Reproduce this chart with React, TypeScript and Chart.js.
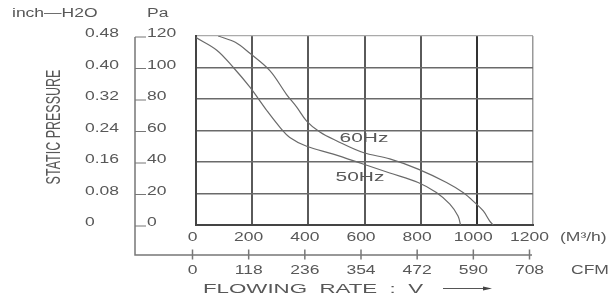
import React, { useEffect, useRef } from "react";
import { Chart, registerables } from "chart.js";

Chart.register(...registerables);

// ---- data ----
const flow60 = [79, 140, 192, 263, 322, 358, 394, 441, 500, 595, 690, 791, 892, 951, 993, 1023, 1046, 1058];
const pres60 = [120, 116, 109, 98, 83, 75, 66, 59, 53.5, 46, 42, 35.5, 27, 20.6, 14.2, 8.9, 2.5, 0];
const flow50 = [0, 74, 133, 192, 252, 299, 334, 394, 489, 595, 690, 791, 856, 904, 933, 942];
const pres50 = [119, 111, 100, 87.5, 72.7, 62, 55.6, 50, 45, 38.7, 33, 27, 20.6, 13.2, 5.7, 0];

const flowTicks = [0, 200, 400, 600, 800, 1000, 1200];
const cfmLabels = ["0", "118", "236", "354", "472", "590", "708"];
const paTicks = [120, 100, 80, 60, 40, 20, 0];
const inchLabels = ["0.48", "0.40", "0.32", "0.24", "0.16", "0.08", "0"];

const FONT = '"Liberation Sans", Arial, sans-serif';
const TXT = "#585858";

function drawText(
  ctx: CanvasRenderingContext2D,
  text: string,
  x: number,
  y: number,
  align: CanvasTextAlign,
  size: number,
  sx: number,
  baseline: CanvasTextBaseline = "alphabetic"
) {
  ctx.save();
  ctx.translate(x, y);
  ctx.scale(sx, 1);
  ctx.font = `${size}px ${FONT}`;
  ctx.fillStyle = TXT;
  ctx.textAlign = align;
  ctx.textBaseline = baseline;
  ctx.fillText(text, 0, 0);
  ctx.restore();
}

function drawFit(ctx: CanvasRenderingContext2D, text: string, x: number, y: number, size: number, width: number) {
  ctx.save();
  ctx.font = `${size}px ${FONT}`;
  const w = ctx.measureText(text).width;
  ctx.restore();
  drawText(ctx, text, x, y, "left", size, width / w);
}

const decor = {
  id: "decor",
  afterDraw(chart: any) {
    const { ctx, scales } = chart;
    const x = scales.x;
    const y = scales.y;
    const SX = 1.4;
    ctx.save();
    // L-shaped outer axis
    const axX = 135;
    const axY = 255;
    ctx.strokeStyle = "#777";
    ctx.lineWidth = 1.5;
    ctx.beginPath();
    ctx.moveTo(axX, y.getPixelForValue(120) + 1);
    ctx.lineTo(axX, axY);
    ctx.lineTo(x.getPixelForValue(1200) - 1, axY);
    ctx.stroke();

    // Pa ticks & labels, inch labels
    paTicks.forEach((v, i) => {
      const yy = y.getPixelForValue(v) + 1;
      ctx.strokeStyle = "#777";
      ctx.lineWidth = 1;
      ctx.beginPath();
      ctx.moveTo(axX, yy);
      ctx.lineTo(axX + 11, yy);
      ctx.stroke();
      drawText(ctx, String(v), axX + 12, yy, "left", 12.5, SX);
      drawText(ctx, inchLabels[i], 85, yy, "left", 12.5, SX);
    });

    // top units
    drawText(ctx, "inch\u2014H2O", 12, 17, "left", 12.5, SX);
    drawText(ctx, "Pa", 147, 17, "left", 12.5, SX);

    // rotated axis title
    ctx.save();
    ctx.translate(54, 127);
    ctx.scale(1.6, 1);
    ctx.rotate(-Math.PI / 2);
    ctx.font = `12.5px ${FONT}`;
    ctx.fillStyle = TXT;
    ctx.textAlign = "center";
    ctx.textBaseline = "middle";
    ctx.fillText("STATIC PRESSURE", 0, 0);
    ctx.restore();

    // flow labels
    flowTicks.forEach((v, i) => {
      const px = x.getPixelForValue(v) - 3.5;
      drawText(ctx, String(v), px, 241, "center", 12.5, SX);
      ctx.strokeStyle = "#777";
      ctx.lineWidth = 1.5;
      ctx.beginPath();
      ctx.moveTo(px, 249.5);
      ctx.lineTo(px, 259.5);
      ctx.stroke();
      drawText(ctx, cfmLabels[i], px, 274, "center", 12.5, SX);
    });
    drawText(ctx, "(M\u00b3/h)", 560, 241, "left", 12.5, SX);
    drawText(ctx, "CFM", 571, 274, "left", 12.5, SX);

    // axis title
    drawFit(ctx, "FLOWING  RATE  :  V", 203, 293, 13.5, 220);
    ctx.strokeStyle = "#555";
    ctx.lineWidth = 1;
    ctx.beginPath();
    ctx.moveTo(443, 288.5);
    ctx.lineTo(490, 288.5);
    ctx.stroke();
    ctx.fillStyle = "#444";
    ctx.beginPath();
    ctx.moveTo(492, 288.5);
    ctx.lineTo(483, 286.5);
    ctx.lineTo(483, 290.5);
    ctx.closePath();
    ctx.fill();

    // curve labels
    drawText(ctx, "60Hz", x.getPixelForValue(598), y.getPixelForValue(55), "center", 13.5, 1.55, "middle");
    drawText(ctx, "50Hz", x.getPixelForValue(584), y.getPixelForValue(30), "center", 13.5, 1.55, "middle");
    ctx.restore();
  },
};

export default function App() {
  const ref = useRef<HTMLCanvasElement | null>(null);
  useEffect(() => {
    if (!ref.current) return;
    const chart = new Chart(ref.current, {
      type: "line",
      data: {
        datasets: [
          {
            label: "60Hz",
            data: flow60.map((f, i) => ({ x: f, y: pres60[i] })),
            borderColor: "#6a6a6a",
            borderWidth: 1.2,
            pointRadius: 0,
            tension: 0.35,
            fill: false,
          },
          {
            label: "50Hz",
            data: flow50.map((f, i) => ({ x: f, y: pres50[i] })),
            borderColor: "#6a6a6a",
            borderWidth: 1.2,
            pointRadius: 0,
            tension: 0.35,
            fill: false,
          },
        ],
      },
      options: {
        responsive: false,
        animation: false,
        layout: { padding: { left: 196, right: 82, top: 36, bottom: 72 } },
        plugins: { legend: { display: false }, tooltip: { enabled: false }, title: { display: false } },
        scales: {
          x: {
            type: "linear",
            min: 0,
            max: 1200,
            ticks: { display: false, stepSize: 200 },
            grid: {
              drawTicks: false,
              color: (c: any) => (c.tick && c.tick.value === 1200 ? "#999" : c.tick && c.tick.value === 1000 ? "#333" : "#5a5a5a"),
              lineWidth: (c: any) => (c.tick && c.tick.value === 1200 ? 1.5 : 2),
            },
            border: { display: true, color: "#444", width: 2 },
          },
          y: {
            type: "linear",
            min: 0,
            max: 120,
            ticks: { display: false, stepSize: 20 },
            grid: {
              drawTicks: false,
              color: (c: any) => (c.tick && c.tick.value === 120 ? "#aaa" : "#6a6a6a"),
              lineWidth: (c: any) => (c.tick && c.tick.value === 120 ? 1.2 : 1.5),
            },
            border: { display: true, color: "#444", width: 2 },
          },
        },
      },
      plugins: [decor],
    } as any);
    return () => chart.destroy();
  }, []);
  return (
    <div style={{ position: "absolute", left: 0, top: 0, width: 615, height: 297, background: "#fff" }}>
      <canvas ref={ref} width={615} height={297} style={{ display: "block" }} />
    </div>
  );
}
